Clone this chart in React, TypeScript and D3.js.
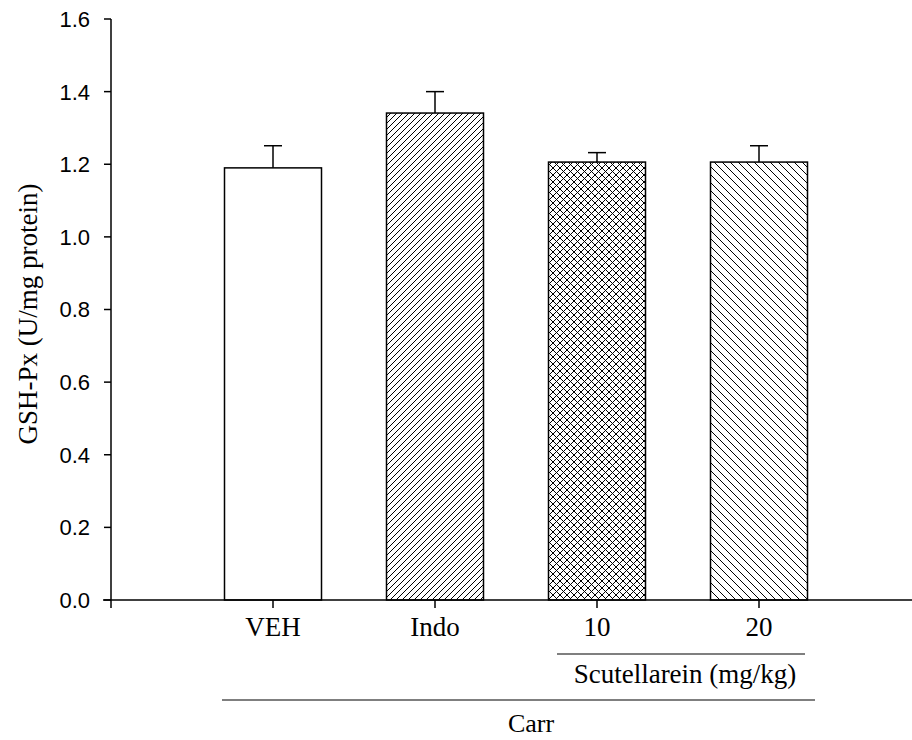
import React from "react";
import * as d3 from "d3";

const categories = ["VEH", "Indo", "10", "20"];
const values = [1.19, 1.341, 1.206, 1.206];
const errors = [0.061, 0.059, 0.026, 0.045];
const patterns = ["none", "fwd", "cross", "back"];
const yTicks = [0, 0.2, 0.4, 0.6, 0.8, 1.0, 1.2, 1.4, 1.6];

const W = 912;
const H = 740;

export default function App() {
  const x = d3.scaleLinear().domain([0, 5]).range([111, 921]);
  const y = d3.scaleLinear().domain([0, 1.6]).range([600, 19]);
  const barW = 97;
  const serif = "'Liberation Serif', 'Times New Roman', serif";
  const sans = "'Liberation Sans', Arial, sans-serif";
  const fillFor = (p: string) =>
    p === "none" ? "#fff" : `url(#pat-${p})`;
  return (
    <svg
      width={W}
      height={H}
      style={{ position: "absolute", left: 0, top: 0, background: "#fff" }}
    >
      <defs>
        <pattern id="pat-fwd" patternUnits="userSpaceOnUse" width={6} height={6}>
          <rect width={6} height={6} fill="#fff" />
          <path d="M-1,1 l2,-2 M0,6 l6,-6 M5,7 l2,-2" stroke="#000" strokeWidth={1} />
        </pattern>
        <pattern id="pat-back" patternUnits="userSpaceOnUse" width={8} height={8}>
          <rect width={8} height={8} fill="#fff" />
          <path d="M-1,7 l2,2 M0,0 l8,8 M7,-1 l2,2" stroke="#000" strokeWidth={1} />
        </pattern>
        <pattern id="pat-cross" patternUnits="userSpaceOnUse" width={7} height={7}>
          <rect width={7} height={7} fill="#fff" />
          <path
            d="M-1,1 l2,-2 M0,7 l7,-7 M6,8 l2,-2 M-1,6 l2,2 M0,0 l7,7 M6,-1 l2,2"
            stroke="#000"
            strokeWidth={1}
          />
        </pattern>
      </defs>

      {/* bars */}
      {categories.map((c, i) => {
        const cx = x(i + 1);
        const top = y(values[i]);
        const errTop = y(values[i] + errors[i]);
        return (
          <g key={c}>
            <line x1={cx} x2={cx} y1={top} y2={errTop} stroke="#000" strokeWidth={1.5} />
            <line x1={cx - 9} x2={cx + 9} y1={errTop} y2={errTop} stroke="#000" strokeWidth={1.5} />
            <rect
              x={cx - barW / 2}
              y={top}
              width={barW}
              height={y(0) - top}
              fill={fillFor(patterns[i])}
              stroke="#000"
              strokeWidth={1.5}
            />
          </g>
        );
      })}

      {/* y axis */}
      <line x1={x(0)} x2={x(0)} y1={y(1.6)} y2={y(0)} stroke="#000" strokeWidth={1.5} />
      {yTicks.map((t) => (
        <g key={t}>
          <line x1={x(0) - 7} x2={x(0)} y1={y(t)} y2={y(t)} stroke="#000" strokeWidth={1.5} />
          <text
            x={90}
            y={y(t)}
            dy="0.36em"
            textAnchor="end"
            fontFamily={sans}
            fontSize={22}
          >
            {t.toFixed(1)}
          </text>
        </g>
      ))}

      {/* x axis */}
      <line x1={x(0) - 8} x2={x(5)} y1={y(0)} y2={y(0)} stroke="#000" strokeWidth={1.5} />
      <line x1={x(0)} x2={x(0)} y1={y(0)} y2={y(0) + 8} stroke="#000" strokeWidth={1.5} />
      {categories.map((c, i) => (
        <g key={c}>
          <line x1={x(i + 1)} x2={x(i + 1)} y1={y(0)} y2={y(0) + 8} stroke="#000" strokeWidth={1.5} />
          <text
            x={x(i + 1)}
            y={636}
            textAnchor="middle"
            fontFamily={serif}
            fontSize={27}
          >
            {c}
          </text>
        </g>
      ))}

      {/* group labels */}
      <line x1={557} x2={805} y1={654} y2={654} stroke="#000" strokeWidth={1.2} />
      <text x={685} y={683} textAnchor="middle" fontFamily={serif} fontSize={27}>
        Scutellarein (mg/kg)
      </text>
      <line x1={222} x2={815} y1={700} y2={700} stroke="#000" strokeWidth={1.2} />
      <text x={531} y={732} textAnchor="middle" fontFamily={serif} fontSize={26}>
        Carr
      </text>

      {/* y title */}
      <text
        transform={`translate(37, 314) rotate(-90)`}
        textAnchor="middle"
        fontFamily={serif}
        fontSize={27}
      >
        GSH-Px (U/mg protein)
      </text>
    </svg>
  );
}
